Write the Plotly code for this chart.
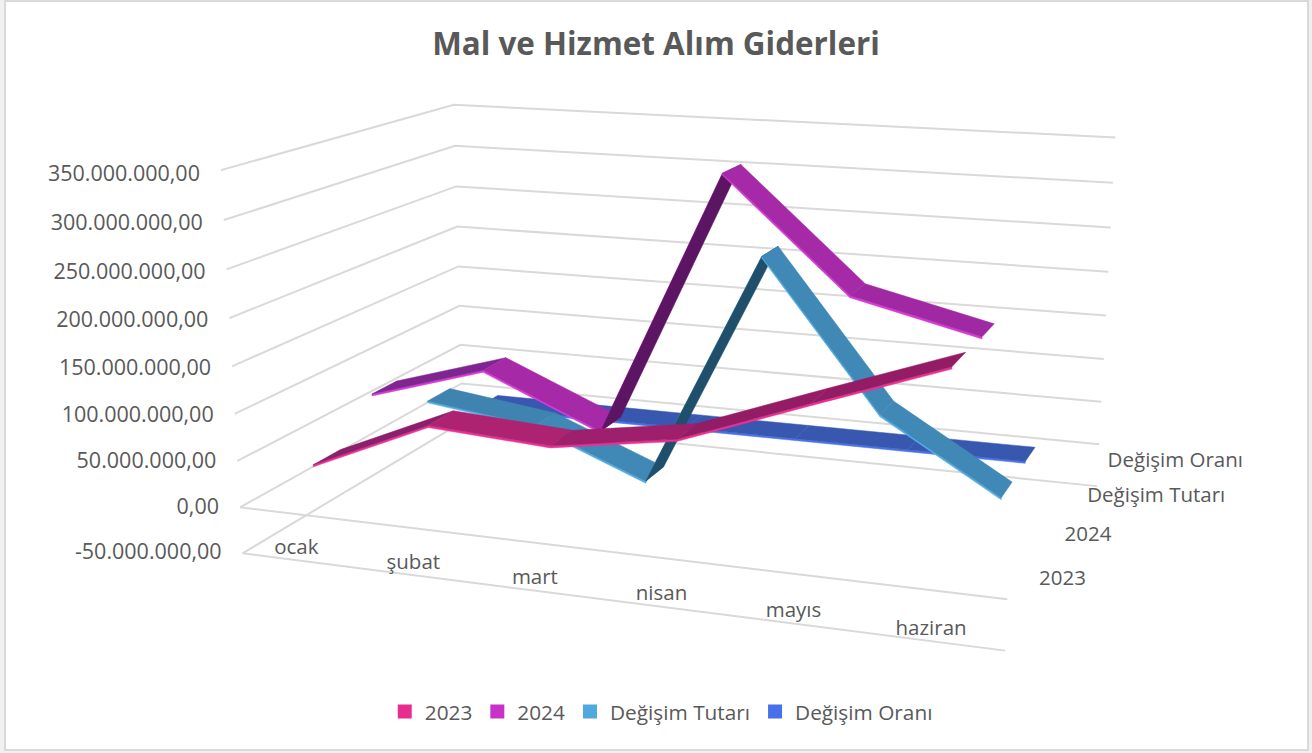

import numpy as np
import plotly.graph_objects as go

W, H = 1312, 753
title = "Mal ve Hizmet Alım Giderleri"
months = ["ocak", "şubat", "mart", "nisan", "mayıs", "haziran"]
series_names = ["2023", "2024", "Değişim Tutarı", "Değişim Oranı"]
values_2023 = [42e6, 97e6, 89e6, 109e6, 157e6, 204e6]
values_2024 = [84e6, 122e6, 68e6, 347e6, 233e6, 202e6]
values_tutar = [42e6, 25e6, -26e6, 238e6, 76e6, -2e6]
values_oran = [1.0, 0.26, -0.24, 2.18, 0.48, -0.01]
tick_values = [-50e6, 0, 50e6, 100e6, 150e6, 200e6, 250e6, 300e6, 350e6]
tick_labels = ["-50.000.000,00", "0,00", "50.000.000,00", "100.000.000,00", "150.000.000,00",
               "200.000.000,00", "250.000.000,00", "300.000.000,00", "350.000.000,00"]

all_values = [values_2023, values_2024, values_tutar, values_oran]
legend_colors = ["#E62E8F", "#C932C9", "#4FA8DE", "#4870E8"]
edge_colors = ["#EA3193", "#D63BD6", "#52ADE4", "#4A73EC"]
segment_colors = [
    ["#8B1F6B", "#AE2371", "#9E1F6B", "#931C64", "#931C64"],
    ["#7E2590", "#A629A8", "#5C1562", "#A629A8", "#A028A2"],
    ["#3F84B0", "#4088B5", "#1F4F6B", "#4088B5", "#4088B5"],
    ["#3858B0", "#3858B0", "#3858B0", "#3858B0", "#3858B0"],
]
FONT = "Open Sans"
TEXT = "#595959"
GRID = "#D9D9D9"

# Projection of the chart's 3D box onto the page (x fraction, depth fraction, value)
Z0, Z1 = -50e6, 350e6
calibration = [((0, 0, -50e6), (243, 552)), ((0, 0, 0), (240, 505)), ((0, 0, 350e6), (220, 172)),
               ((0, 1, -50e6), (462, 425)), ((0, 1, 350e6), (455, 103)),
               ((1, 1, -50e6), (1097, 484)), ((1, 1, 350e6), (1115, 138)),
               ((1, 0, -50e6), (1005, 652)), ((1, 0, 0), (1008, 600))]
rows = []
for (a, b, v), (tx, ty) in calibration:
    h = [a, b, (v - Z0) / (Z1 - Z0), 1]
    rows.append(h + [0, 0, 0, 0] + [-tx * q for q in h])
    rows.append([0, 0, 0, 0] + h + [-ty * q for q in h])
PM = np.linalg.svd(np.array(rows, float))[2][-1].reshape(3, 4)


def proj(a, b, v):
    q = PM @ np.array([a, b, (v - Z0) / (Z1 - Z0), 1.0])
    return float(q[0] / q[2]), float(q[1] / q[2])


def path(points):
    xy = [proj(*p) for p in points]
    return [p[0] for p in xy], [p[1] for p in xy]


fig = go.Figure()

# gridlines
for tv in tick_values:
    x, y = path([(0, 0, tv), (0, 1, tv), (1, 1, tv)])
    fig.add_trace(go.Scatter(x=x, y=y, mode="lines", line=dict(color=GRID, width=2),
                             showlegend=False, hoverinfo="skip"))
for tv in tick_values[:2]:
    x, y = path([(0, 0, tv), (1, 0, tv)])
    fig.add_trace(go.Scatter(x=x, y=y, mode="lines", line=dict(color=GRID, width=2),
                             showlegend=False, hoverinfo="skip"))

# ribbons, back to front
RIB = 0.11
THICK = 2.2e6
n = len(months)
for k in range(len(series_names) - 1, -1, -1):
    b = (k + 0.5) / len(series_names)
    vals = all_values[k]
    for j in range(n - 1):
        a0, a1 = (j + 0.5) / n, (j + 1.5) / n
        v0, v1 = vals[j], vals[j + 1]
        front = b - RIB / 2
        back = b + RIB / 2
        ex, ey = path([(a0, front, v0), (a1, front, v1), (a1, front, v1 - THICK), (a0, front, v0 - THICK), (a0, front, v0)])
        fig.add_trace(go.Scatter(x=ex, y=ey, mode="lines", fill="toself", fillcolor=edge_colors[k],
                                 line=dict(color=edge_colors[k], width=0.5), showlegend=False, hoverinfo="skip"))
        tx, ty = path([(a0, front, v0), (a1, front, v1), (a1, back, v1), (a0, back, v0), (a0, front, v0)])
        fig.add_trace(go.Scatter(x=tx, y=ty, mode="lines", fill="toself", fillcolor=segment_colors[k][j],
                                 line=dict(color=segment_colors[k][j], width=0.5), showlegend=False,
                                 name=series_names[k], customdata=[v0, v1, v1, v0, v0], hoverinfo="skip"))

# axis labels
xs, ys = [], []
for tv in tick_values:
    px, py = proj(0, 0, tv)
    xs.append(px - 21)
    ys.append(py + 0.5 + 5 * (tv - Z0) / (Z1 - Z0))
fig.add_trace(go.Scatter(x=xs, y=ys, mode="text", text=tick_labels, textposition="middle left",
                         textfont=dict(family=FONT, size=21.5, color=TEXT), showlegend=False, hoverinfo="skip"))
xs, ys = [], []
for j in range(n):
    px, py = proj((j + 0.5) / n, 0, Z0)
    xs.append(px - 3)
    ys.append(py - 12)
fig.add_trace(go.Scatter(x=xs, y=ys, mode="text", text=months, textposition="middle center",
                         textfont=dict(family=FONT, size=20.5, color=TEXT), showlegend=False, hoverinfo="skip"))
xs, ys = [], []
for k in range(len(series_names)):
    b = (k + 0.5) / len(series_names)
    px, py = proj(1, b, Z0)
    xs.append(px + 20)
    ys.append(py - 47 + 7 * b)
fig.add_trace(go.Scatter(x=xs, y=ys, mode="text", text=series_names, textposition="middle right",
                         textfont=dict(family=FONT, size=20.5, color=TEXT), showlegend=False, hoverinfo="skip"))

# legend entries
for name, color in zip(series_names, legend_colors):
    fig.add_trace(go.Scatter(x=[None], y=[None], mode="markers", name=name,
                             marker=dict(symbol="square", size=14, color=color)))

fig.update_layout(
    width=W, height=H, autosize=False,
    margin=dict(l=0, r=0, t=0, b=0),
    paper_bgcolor="#F0F0F0", plot_bgcolor="rgba(0,0,0,0)",
    xaxis=dict(range=[0, W], visible=False, fixedrange=True),
    yaxis=dict(range=[H, 0], visible=False, fixedrange=True),
    title=dict(text=f"<b>{title}</b>", x=0.5, xanchor="center", y=1 - 44 / H, yanchor="middle",
               font=dict(family=FONT, size=31.4, color=TEXT)),
    legend=dict(orientation="h", x=0.504, xanchor="center", y=1 - 712 / H, yanchor="middle",
                font=dict(family=FONT, size=20.8, color=TEXT), itemsizing="trace",
                bgcolor="rgba(0,0,0,0)", traceorder="normal"),
    shapes=[dict(type="rect", xref="x", yref="y", x0=5, y0=1, x1=1308, y1=750, layer="below",
                 line=dict(color=GRID, width=2), fillcolor="white")],
    showlegend=True,
)
fig.write_html("out.html", config={"displayModeBar": False},
               post_script="document.body.style.margin='0';document.body.style.overflow='hidden';")
